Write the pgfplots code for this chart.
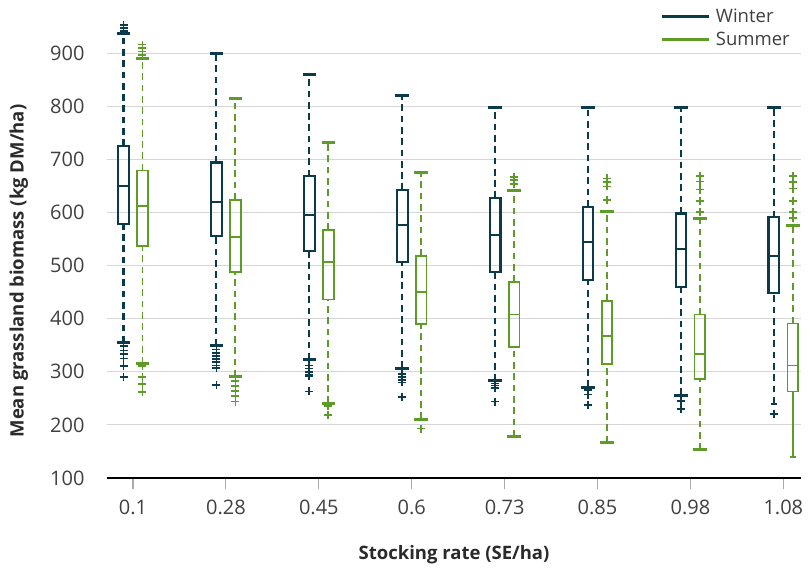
\documentclass[border=0pt]{standalone}
\usepackage{pgfplots}
\pgfplotsset{compat=1.18}
\usepackage{fontspec}
\setmainfont{Open Sans}
\definecolor{winter}{HTML}{0B3B4B}
\definecolor{summer}{HTML}{5E9C2A}
\definecolor{gridgray}{HTML}{D6D6D6}
\definecolor{ticktext}{HTML}{404040}
\definecolor{labtext}{HTML}{2A2A2A}
\begin{document}
\begin{tikzpicture}
\useasboundingbox (-107pt,-92pt) rectangle (703pt,478pt);
\begin{axis}[
  at={(0,0)}, anchor=south west,
  scale only axis, width=694pt, height=478pt,
  xmin=-0.28, xmax=7.19, ymin=100, ymax=1000,
  axis x line*=bottom, axis y line*=left,
  y axis line style={draw=none},
  x axis line style={line width=1.8pt, black, -},
  xtick={0,...,7},
  xticklabels={0.1,0.28,0.45,0.6,0.73,0.85,0.98,1.08},
  ytick={100,200,...,900},
  ymajorgrids, grid style={color=gridgray, line width=1.2pt},
  ytick style={draw=none},
  xtick style={color=gridgray!80!black, line width=1.1pt},
  major tick length=11pt, tick align=outside,
  /pgf/number format/assume math mode=true,
  ticklabel style={font=\fontsize{20}{23}\selectfont, text=ticktext},
  yticklabel style={xshift=-8pt},
  xticklabel style={yshift=-7pt},
  xlabel={Stocking rate (SE/ha)},
  ylabel={Mean grassland biomass (kg DM/ha)},
  label style={font=\bfseries\fontsize{18.5}{21}\selectfont, text=labtext},
  xlabel style={at={(axis description cs:0.5,-0.16)}, anchor=center},
  ylabel style={at={(axis description cs:-0.127,0.433)}, anchor=center},
  legend style={draw=none, fill=none, at={(0.797,1.0)}, anchor=north west, yshift=-7pt,
    font=\fontsize{18.5}{21}\selectfont, text=ticktext, inner sep=0pt, row sep=4pt},
  legend cell align=left,
  legend image code/.code={\draw[#1, solid, line width=2.6pt] (0pt,0pt) -- (47pt,0pt);},
  clip=false, unbounded coords=jump,
  wh/.style={dash pattern=on 6.7pt off 4.6pt, forget plot, mark=none},
  bx/.style={solid, forget plot, mark=none, line cap=rect, line join=miter},
  cap/.style={only marks, mark=-, mark size=6.8pt, mark options={solid, line width=3pt}, forget plot},
  out/.style={only marks, mark=+, mark size=4pt, mark options={solid, line width=1.7pt}, forget plot},
]
\addlegendimage{winter}
\addlegendentry{\hspace{4pt}Winter}
\addlegendimage{summer}
\addlegendentry{\hspace{4pt}Summer}
% ---------------- Winter ----------------
% whiskers
\addplot[winter, line width=2.1pt, wh] coordinates {
 (-0.102,355) (-0.102,579) (-0.102,nan) (-0.102,725) (-0.102,936) (-0.102,nan)
 (0.898,349) (0.898,555) (0.898,nan) (0.898,694) (0.898,900) (0.898,nan)
 (1.898,323) (1.898,528) (1.898,nan) (1.898,668) (1.898,859) (1.898,nan)
 (2.898,307) (2.898,507) (2.898,nan) (2.898,642) (2.898,821) (2.898,nan)
 (3.898,283) (3.898,488) (3.898,nan) (3.898,627) (3.898,798) (3.898,nan)
 (4.898,271) (4.898,473) (4.898,nan) (4.898,611) (4.898,798) (4.898,nan)
 (5.898,256) (5.898,460) (5.898,nan) (5.898,598) (5.898,797) (5.898,nan)
 (6.898,240) (6.898,448) (6.898,nan) (6.898,591) (6.898,797)};
% boxes (lower quartile to upper quartile)
\addplot[winter, line width=2.1pt, bx] coordinates {
 (-0.1595,579) (-0.0445,579) (-0.0445,725) (-0.1595,725) (-0.1595,579) (-0.1595,nan)
 (0.8405,555) (0.9555,555) (0.9555,694) (0.8405,694) (0.8405,555) (0.8405,nan)
 (1.8405,528) (1.9555,528) (1.9555,668) (1.8405,668) (1.8405,528) (1.8405,nan)
 (2.8405,507) (2.9555,507) (2.9555,642) (2.8405,642) (2.8405,507) (2.8405,nan)
 (3.8405,488) (3.9555,488) (3.9555,627) (3.8405,627) (3.8405,488) (3.8405,nan)
 (4.8405,473) (4.9555,473) (4.9555,611) (4.8405,611) (4.8405,473) (4.8405,nan)
 (5.8405,460) (5.9555,460) (5.9555,598) (5.8405,598) (5.8405,460) (5.8405,nan)
 (6.8405,448) (6.9555,448) (6.9555,591) (6.8405,591) (6.8405,448)};
% medians
\addplot[winter, line width=2.1pt, bx] coordinates {
 (-0.1595,649) (-0.0445,649) (-0.0445,nan)
 (0.8405,620) (0.9555,620) (0.9555,nan)
 (1.8405,595) (1.9555,595) (1.9555,nan)
 (2.8405,577) (2.9555,577) (2.9555,nan)
 (3.8405,557) (3.9555,557) (3.9555,nan)
 (4.8405,545) (4.9555,545) (4.9555,nan)
 (5.8405,532) (5.9555,532) (5.9555,nan)
 (6.8405,518) (6.9555,518)};
% whisker caps
\addplot[winter, cap] coordinates {(-0.102,355) (-0.102,936) (0.898,349) (0.898,900)
 (1.898,323) (1.898,859) (2.898,307) (2.898,821) (3.898,283) (3.898,798)
 (4.898,271) (4.898,798) (5.898,256) (5.898,797) (6.898,797)};
\addplot[winter, cap, mark size=3pt, mark options={solid, line width=2pt}] coordinates {(6.898,240)};
% outliers
\addplot[winter, out] coordinates {
 (-0.102,953) (-0.102,947) (-0.102,941) (-0.102,348) (-0.102,340) (-0.102,333) (-0.102,325) (-0.102,311) (-0.102,290)
 (0.898,342) (0.898,336) (0.898,330) (0.898,324) (0.898,318) (0.898,312) (0.898,307) (0.898,275)
 (1.898,312) (1.898,306) (1.898,300) (1.898,295) (1.898,292) (1.898,263)
 (2.898,296) (2.898,290) (2.898,285) (2.898,280) (2.898,253)
 (3.898,278) (3.898,274) (3.898,270) (3.898,244)
 (4.898,266) (4.898,257) (4.898,237)
 (5.898,245) (5.898,230)
 (6.898,221)};
% ---------------- Summer ----------------
\addplot[summer, line width=1.9pt, wh] coordinates {
 (0.102,315) (0.102,537) (0.102,nan) (0.102,679) (0.102,889) (0.102,nan)
 (1.102,291) (1.102,488) (1.102,nan) (1.102,624) (1.102,814) (1.102,nan)
 (2.102,241) (2.102,436) (2.102,nan) (2.102,567) (2.102,731) (2.102,nan)
 (3.102,211) (3.102,390) (3.102,nan) (3.102,518) (3.102,676) (3.102,nan)
 (4.102,178) (4.102,347) (4.102,nan) (4.102,469) (4.102,641) (4.102,nan)
 (5.102,167) (5.102,315) (5.102,nan) (5.102,433) (5.102,601) (5.102,nan)
 (6.102,153) (6.102,287) (6.102,nan) (6.102,408) (6.102,589) (6.102,nan)
 (7.102,391) (7.102,575)};
\addplot[summer, line width=1.9pt, solid, forget plot] coordinates {(7.102,140) (7.102,263)};
\addplot[summer, line width=1.8pt, bx] coordinates {
 (0.0445,537) (0.1595,537) (0.1595,679) (0.0445,679) (0.0445,537) (0.0445,nan)
 (1.0445,488) (1.1595,488) (1.1595,624) (1.0445,624) (1.0445,488) (1.0445,nan)
 (2.0445,436) (2.1595,436) (2.1595,567) (2.0445,567) (2.0445,436) (2.0445,nan)
 (3.0445,390) (3.1595,390) (3.1595,518) (3.0445,518) (3.0445,390) (3.0445,nan)
 (4.0445,347) (4.1595,347) (4.1595,469) (4.0445,469) (4.0445,347) (4.0445,nan)
 (5.0445,315) (5.1595,315) (5.1595,433) (5.0445,433) (5.0445,315) (5.0445,nan)
 (6.0445,287) (6.1595,287) (6.1595,408) (6.0445,408) (6.0445,287) (6.0445,nan)
 (7.0445,263) (7.1595,263) (7.1595,391) (7.0445,391) (7.0445,263)};
\addplot[summer, line width=1.8pt, bx] coordinates {
 (0.0445,612) (0.1595,612) (0.1595,nan)
 (1.0445,554) (1.1595,554) (1.1595,nan)
 (2.0445,506) (2.1595,506) (2.1595,nan)
 (3.0445,450) (3.1595,450) (3.1595,nan)
 (4.0445,408) (4.1595,408) (4.1595,nan)
 (5.0445,368) (5.1595,368) (5.1595,nan)
 (6.0445,334) (6.1595,334) (6.1595,nan)
 (7.0445,312) (7.1595,312)};
\addplot[summer, cap] coordinates {(0.102,315) (0.102,889) (1.102,291) (1.102,814)
 (2.102,241) (2.102,731) (3.102,211) (3.102,676) (4.102,178) (4.102,641)
 (5.102,167) (5.102,601) (6.102,153) (6.102,589) (7.102,575)};
\addplot[summer, cap, mark size=3pt, mark options={solid, line width=2pt}] coordinates {(7.102,140)};
\addplot[summer, out] coordinates {
 (0.102,916) (0.102,909) (0.102,903) (0.102,897) (0.102,311) (0.102,290) (0.102,277) (0.102,262)
 (1.102,283) (1.102,273) (1.102,264) (1.102,255) (1.102,244)
 (2.102,236) (2.102,218)
 (3.102,193)
 (4.102,667) (4.102,661) (4.102,653)
 (5.102,664) (5.102,657) (5.102,649) (5.102,623)
 (6.102,668) (6.102,658) (6.102,643) (6.102,622) (6.102,601)
 (7.102,668) (7.102,657) (7.102,645) (7.102,622) (7.102,601) (7.102,590)};
\end{axis}
\end{tikzpicture}
\end{document}
